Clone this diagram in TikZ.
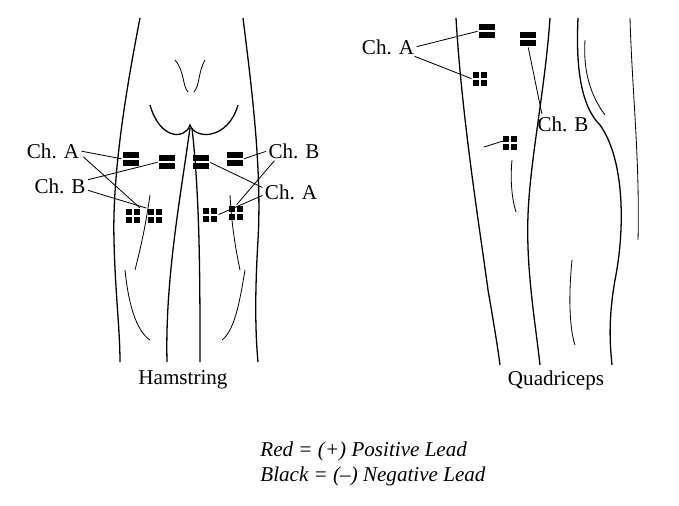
\documentclass[tikz,border=0pt]{standalone}
\usepackage{fontspec}
\setmainfont{Liberation Serif}
\usetikzlibrary{calc}
\tikzset{
  leg/.style={line width=1.1pt, black},
  thin/.style={line width=0.7pt, black},
  lead/.style={line width=0.7pt, black, shorten <=1pt, shorten >=1pt},
  lbl/.style={font=\fontsize{18}{21}\selectfont, inner sep=1pt},
  twobar/.style={rectangle, minimum width=0.48cm, minimum height=0.42cm, inner sep=0pt,
    path picture={
      \fill (path picture bounding box.north west) rectangle ($(path picture bounding box.east)+(0pt,1pt)$);
      \fill ($(path picture bounding box.west)-(0pt,1pt)$) rectangle (path picture bounding box.south east);}},
  fourbox/.style={rectangle, minimum size=0.44cm, inner sep=0pt,
    path picture={
      \fill (path picture bounding box.north west) rectangle ($(path picture bounding box.center)+(-1pt,1pt)$);
      \fill (path picture bounding box.north east) rectangle ($(path picture bounding box.center)+(1pt,1pt)$);
      \fill (path picture bounding box.south west) rectangle ($(path picture bounding box.center)+(-1pt,-1pt)$);
      \fill (path picture bounding box.south east) rectangle ($(path picture bounding box.center)+(1pt,-1pt)$);}}
}
\begin{document}
\begin{tikzpicture}[x=0.03cm, y=-0.03cm]
  \useasboundingbox (0,0) rectangle (679,505);

  % Hamstring legs
  \draw[leg] (140,18) .. controls (128,80) and (112,170) .. (114,240)
             .. controls (115,290) and (120,330) .. (120,362);
  \draw[leg] (243,18) .. controls (252,90) and (262,170) .. (258,240)
             .. controls (255,290) and (255,330) .. (258,362);
  \draw[leg] (150,105) .. controls (160,140) and (185,140) .. (190,125)
             .. controls (195,140) and (228,140) .. (238,105);
  \draw[leg] (190,128) .. controls (180,200) and (165,280) .. (167,362);
  \draw[leg] (192,128) .. controls (200,200) and (200,280) .. (200,362);
  \draw[thin] (175,60) .. controls (185,72) and (182,85) .. (188,92);
  \draw[thin] (205,60) .. controls (198,72) and (200,85) .. (194,92);
  \draw[thin] (125,270) .. controls (128,300) and (135,330) .. (150,340);
  \draw[thin] (245,270) .. controls (240,300) and (235,330) .. (222,340);
  \draw[thin] (150,195) .. controls (145,230) and (140,250) .. (135,270);
  \draw[thin] (230,195) .. controls (232,230) and (236,250) .. (240,270);

  % Quadriceps legs
  \draw[leg] (456,18) .. controls (462,120) and (480,230) .. (488,290)
             .. controls (495,330) and (498,350) .. (500,365);
  \draw[leg] (550,18) .. controls (545,90) and (530,160) .. (528,215)
             .. controls (526,270) and (535,320) .. (540,365);
  \draw[leg] (578,18) .. controls (575,80) and (585,110) .. (600,125)
             .. controls (625,160) and (625,230) .. (615,280)
             .. controls (608,320) and (610,345) .. (612,365);
  \draw[thin] (585,40) .. controls (583,70) and (590,95) .. (605,115);
  \draw[thin] (630,18) .. controls (632,90) and (640,160) .. (638,240);
  \draw[thin] (512,160) .. controls (510,180) and (512,200) .. (516,212);
  \draw[thin] (484,147) -- (503,141);
  \draw[thin] (572,260) .. controls (568,300) and (570,330) .. (575,345);

  % Hamstring electrodes
  \node[twobar]  (hA1) at (131,159) {};
  \node[twobar]  (hB1) at (167,162) {};
  \node[twobar]  (hA2) at (201,162) {};
  \node[twobar]  (hB2) at (235,159) {};
  \node[fourbox] (hA3) at (133,216) {};
  \node[fourbox] (hB3) at (155,216) {};
  \node[fourbox] (hA4) at (210,215) {};
  \node[fourbox] (hB4) at (236,213) {};

  % Quadriceps electrodes
  \node[twobar]  (qA1) at (487,31) {};
  \node[twobar]  (qB1) at (528,39) {};
  \node[fourbox] (qA2) at (480,79) {};
  \node[fourbox] (qB2) at (510,143) {};

  % Labels
  \node[lbl] (lhA)  at (53,151)  {Ch. A};
  \node[lbl] (lhB)  at (60,186)  {Ch. B};
  \node[lbl] (rhB)  at (294,151) {Ch. B};
  \node[lbl] (rhA)  at (291,192) {Ch. A};
  \node[lbl] (lqA)  at (388,47)  {Ch. A};
  \node[lbl] (lqB)  at (563,124) {Ch. B};

  % Leads
  \draw[lead] (lhA.east) -- (hA1.west);
  \draw[lead] ($(lhA.east)+(2,5)$) -- (hA3.north east);
  \draw[lead] ($(lhB.east)+(0,-6)$) -- (hB1.west);
  \draw[lead] ($(lhB.east)+(0,4)$) -- (hB3.north west);
  \draw[lead] (rhB.west) -- (hB2.east);
  \draw[lead] ($(rhB.south west)+(8,0)$) -- (hB4.north);
  \draw[lead] ($(rhA.west)+(0,-4)$) -- (hA2.east);
  \draw[lead] ($(rhA.west)+(0,3)$) -- (hA4.east);
  \draw[lead] (lqA.east) -- (qA1.west);
  \draw[lead] ($(lqA.south east)+(-2,0)$) -- (qA2.west);
  \draw[lead] (qB1.south) -- ($(lqB.north west)+(6,0)$);

  % Captions
  \node[lbl] (ham) at (183,380) {Hamstring};
  \node[lbl] (quad) at (556,380) {Quadriceps};
  \node[lbl, align=left, anchor=west] (key) at (259,464)
    {\textit{Red = (+) Positive Lead}\\\textit{Black = (--) Negative Lead}};
\end{tikzpicture}
\end{document}
